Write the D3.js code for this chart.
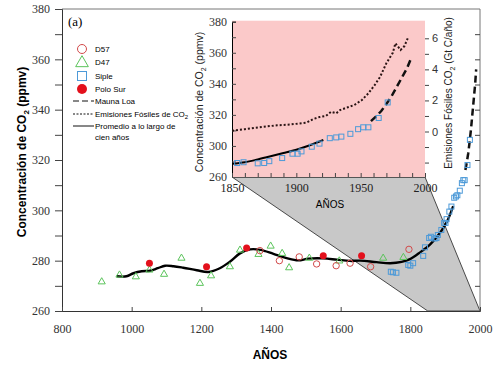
<!DOCTYPE html>
<html>
<head>
<meta charset="utf-8">
<script src="https://cdn.jsdelivr.net/npm/d3@7/dist/d3.min.js"></script>
<style>
body { margin: 0; background: #fff; }
svg { display: block; }
.serif text { font-family: "Liberation Serif", "Times New Roman", serif; }
</style>
</head>
<body>
<div class="content"></div>
<script>
// main chart data (year, ppmv)
var d57 = [[1368,284],[1424,280],[1481,281.5],[1531,278.7],[1587,278],[1627,279],[1686,277.6],[1796,284.5]];
var d47 = [[914,271.6],[965,274.3],[1012,273.6],[1051,276.3],[1093,274.6],[1143,281],[1196,271],[1228,274],
           [1282,277.6],[1311,284.2],[1364,282.5],[1399,285.8],[1432,282.9],[1452,277.2],[1510,281],[1596,279.9],
           [1722,281],[1780,281.3]];
var siple = [[1744,275.6],[1750,275.4],[1760,275.2],[1794,278.3],[1800,278],[1808,279],[1837,281.9],[1842,285.3],
             [1854,289],[1859,289.5],[1870,288.8],[1875,289],[1879,290.2],[1889,292.2],[1897,295],[1901,295],
             [1904,296.5],[1912,299.5],[1918,301.5],[1926,305],[1931,305.5],[1935,306],[1942,307.8],[1948,310.8],
             [1952,312],[1956,312],[1964,318],[1971,328]];
var poloSur = [[1051,279],[1215,277.6],[1330,285],[1550,282],[1660,282]];
var maunaLoa = [[1958,316],[1962,319],[1966,322.5],[1970,327],[1974,332],[1978,338],[1982,344],[1986,350],[1989,356]];
var promedio = [[957,273.8],[985,273.8],[1005,275],[1029,275.8],[1053,276],[1075,277],[1096,278],[1120,277.8],
                [1148,277.2],[1187,276.2],[1220,275.5],[1253,277],[1282,279.6],[1311,282.9],[1340,284.5],[1370,284.3],
                [1407,282.7],[1445,281],[1478,280.1],[1507,280.8],[1550,280.9],[1589,280.4],[1627,279.9],[1656,280],
                [1703,279.4],[1742,279],[1775,279.5],[1799,280.6],[1828,283.3],[1857,286.5],[1885,291],[1905,295.5],
                [1923,301.7]];
// inset data
var promedioInset = [[1850,288.5],[1860,289.5],[1870,291.3],[1880,293.3],[1890,295.4],[1900,297.6],[1910,300.3],[1921,303.8]];
var fosiles = [[1850,0.05],[1860,0.15],[1874,0.3],[1885,0.4],[1895,0.45],[1908,0.57],[1913,0.8],[1918,0.93],
               [1923,1.0],[1927,1.27],[1931,1.17],[1934,1.38],[1940,1.56],[1945,1.7],[1951,2.03],[1956,2.46],
               [1961,3.0],[1965,3.5],[1970,4.4],[1975,5.07],[1977,5.68],[1981,5.25],[1984,5.5],[1987,6.08]];

var mainYTicks = [260,280,300,320,340,360,380];
var mainXTicks = [800,1000,1200,1400,1600,1800,2000];
var insetYTicks = [280,300,320,340,360,380];
var insetYLabels = ["260","300","320","340","360","380"];
var insetETicks = [0,2,4,6];
var insetXTicks = [1850,1900,1950,2000];

var size = {width: 494, height: 366};
var sans = "Liberation Sans, Arial, sans-serif";
var fmt = d3.format('d');

var chart = d3.select('.content')
    .append('svg')
    .attr('width', size.width)
    .attr('height', size.height);

var x = d3.scaleLinear().domain([800, 2000]).range([62, 480]);
var y = d3.scaleLinear().domain([260, 380]).range([311, 9]);

var ix = d3.scaleLinear().domain([1850, 2000]).range([232, 425]);
var iy = d3.scaleLinear().domain([280, 380]).range([177, 21.7]);
var ie = d3.scaleLinear().domain([0, 6]).range([131.5, 38.3]);

// zoom polygon linking inset to main
chart.append('path')
    .attr('d', 'M' + ix(1850) + ',' + iy(280) + 'L' + x(1850) + ',' + y(260) +
               'L' + x(2000) + ',' + y(260) + 'L' + ix(2000) + ',' + iy(280) + 'Z')
    .style('fill', '#c8c8c8')
    .style('stroke', '#222')
    .style('stroke-width', 0.8);

// main frame
chart.append('path')
    .attr('d', 'M62,9H480V311')
    .style('fill', 'none').style('stroke', '#777').style('stroke-width', 1);

var yAxis = chart.append('g')
    .attr('class', 'serif')
    .attr('transform', 'translate(62,0)')
    .call(d3.axisLeft(y).tickValues(d3.range(260, 381, 10)).tickSize(7)
          .tickFormat(function(d) { return mainYTicks.indexOf(d) >= 0 ? fmt(d) : ''; }));
yAxis.attr('font-size', 12);
yAxis.selectAll('text').attr('x', -12).attr('fill', '#333');

var yAxisR = chart.append('g')
    .attr('transform', 'translate(480,0)')
    .call(d3.axisRight(y).tickValues(d3.range(270, 380, 10)).tickSize(-5).tickFormat(''));
yAxisR.select('.domain').remove();

var xAxis = chart.append('g')
    .attr('class', 'serif')
    .attr('transform', 'translate(0,311)')
    .call(d3.axisBottom(x).tickValues(mainXTicks).tickSize(-4).tickPadding(13).tickFormat(fmt));
xAxis.attr('font-size', 12);
xAxis.selectAll('text').attr('fill', '#333');

chart.selectAll('.domain').style('stroke', '#333');
chart.selectAll('.tick line').style('stroke', '#444');

chart.append('text')
    .attr('transform', 'translate(26,152) rotate(-90)')
    .attr('text-anchor', 'middle')
    .attr('font-family', sans).attr('font-weight', 'bold').attr('font-size', 12)
    .html('Concentración de CO<tspan font-size="8" dy="3">2</tspan><tspan dy="-3"> (ppmv)</tspan>');

chart.append('text')
    .attr('x', 270).attr('y', 359)
    .attr('text-anchor', 'middle')
    .attr('font-family', sans).attr('font-weight', 'bold').attr('font-size', 12)
    .text('AÑOS');

chart.append('g').attr('class', 'serif').append('text')
    .attr('x', 68).attr('y', 26)
    .attr('font-size', 13)
    .text('(a)');

// main data
var line = d3.line().x(function(d) { return x(d[0]); }).y(function(d) { return y(d[1]); });

chart.append('path').datum(maunaLoa).attr('d', line)
    .style('fill', 'none').style('stroke', '#111').style('stroke-width', 2.5).style('stroke-dasharray', '7,4');

chart.append('path').datum(promedio).attr('d', line.curve(d3.curveCatmullRom))
    .style('fill', 'none').style('stroke', '#000').style('stroke-width', 2.4);
line.curve(d3.curveLinear);

var tri = d3.symbol().type(d3.symbolTriangle).size(22);
chart.selectAll('.d47').data(d47).enter().append('path')
    .attr('transform', function(d) { return 'translate(' + x(d[0]) + ',' + y(d[1]) + ')'; })
    .attr('d', tri)
    .style('fill', 'none').style('stroke', '#5cc45c').style('stroke-width', 1);

chart.selectAll('.siple').data(siple).enter().append('rect')
    .attr('x', function(d) { return x(d[0]) - 2.5; })
    .attr('y', function(d) { return y(d[1]) - 2.5; })
    .attr('width', 5).attr('height', 5)
    .style('fill', 'none').style('stroke', '#4d9ad8').style('stroke-width', 1);

chart.selectAll('.d57').data(d57).enter().append('circle')
    .attr('cx', function(d) { return x(d[0]); })
    .attr('cy', function(d) { return y(d[1]); })
    .attr('r', 3.2)
    .style('fill', 'none').style('stroke', '#d24a4a').style('stroke-width', 1);

chart.selectAll('.polo').data(poloSur).enter().append('circle')
    .attr('cx', function(d) { return x(d[0]); })
    .attr('cy', function(d) { return y(d[1]); })
    .attr('r', 3.5)
    .style('fill', '#e3101c');

// legend
var lg = chart.append('g').attr('font-family', sans).attr('font-size', 8);
lg.append('circle').attr('cx', 82).attr('cy', 49).attr('r', 4.5)
    .style('fill', 'none').style('stroke', '#d24a4a');
lg.append('path').attr('transform', 'translate(82,63)').attr('d', d3.symbol().type(d3.symbolTriangle).size(70))
    .style('fill', 'none').style('stroke', '#5cc45c');
lg.append('rect').attr('x', 77.5).attr('y', 71.5).attr('width', 9).attr('height', 9)
    .style('fill', 'none').style('stroke', '#4d9ad8');
lg.append('circle').attr('cx', 82).attr('cy', 89).attr('r', 5).style('fill', '#e3101c');
lg.append('line').attr('x1', 73).attr('x2', 94).attr('y1', 101).attr('y2', 101)
    .style('stroke', '#111').style('stroke-dasharray', '6,3');
lg.append('line').attr('x1', 73).attr('x2', 94).attr('y1', 114).attr('y2', 114)
    .style('stroke', '#111').style('stroke-dasharray', '2,1.5');
lg.append('line').attr('x1', 73).attr('x2', 94).attr('y1', 126).attr('y2', 126)
    .style('stroke', '#111');
var legendText = [['D57', 52], ['D47', 65], ['Siple', 79], ['Polo Sur', 92], ['Mauna Loa', 104],
                  ['Promedio a lo largo de', 129], ['cien años', 140]];
lg.selectAll('.lt').data(legendText).enter().append('text')
    .attr('x', 95).attr('y', function(d) { return d[1]; })
    .text(function(d) { return d[0]; });
lg.append('text').attr('x', 95).attr('y', 117)
    .html('Emisiones Fósiles de CO<tspan font-size="6" dy="2">2</tspan>');

// inset
var inset = chart.append('g');
inset.append('rect')
    .attr('x', ix(1850)).attr('y', iy(380) - 1)
    .attr('width', ix(2000) - ix(1850)).attr('height', iy(280) - iy(380) + 1)
    .style('fill', '#fbc9c9');

var iyAxis = inset.append('g')
    .attr('class', 'serif')
    .attr('transform', 'translate(' + ix(1850) + ',0)')
    .call(d3.axisLeft(iy).tickValues(d3.range(280, 381, 10)).tickSize(-4).tickPadding(5)
          .tickFormat(function(d) { var k = insetYTicks.indexOf(d); return k >= 0 ? insetYLabels[k] : ''; }));
iyAxis.attr('font-size', 12);
iyAxis.selectAll('text').attr('fill', '#333');

var ieAxis = inset.append('g')
    .attr('transform', 'translate(' + ix(2000) + ',0)')
    .call(d3.axisRight(ie).tickValues(d3.range(-2, 7, 1)).tickSize(4).tickPadding(3)
          .tickFormat(function(d) { return insetETicks.indexOf(d) >= 0 ? fmt(d) : ''; }));
ieAxis.attr('font-family', sans).attr('font-size', 11);
ieAxis.selectAll('text').attr('fill', '#333');
ieAxis.select('.domain').remove();

var ixAxis = inset.append('g')
    .attr('class', 'serif')
    .attr('transform', 'translate(0,' + iy(280) + ')')
    .call(d3.axisBottom(ix).tickValues(d3.range(1850, 2001, 10)).tickSize(-4).tickPadding(6)
          .tickFormat(function(d) { return insetXTicks.indexOf(d) >= 0 ? fmt(d) : ''; }));
ixAxis.attr('font-size', 12);
ixAxis.selectAll('text').attr('fill', '#222');
ixAxis.select('.domain').style('stroke', '#555');
inset.selectAll('.tick line').style('stroke', '#444');

inset.append('text')
    .attr('transform', 'translate(203,102) rotate(-90)')
    .attr('text-anchor', 'middle')
    .attr('font-family', sans).attr('font-size', 10.5).attr('fill', '#222')
    .html('Concentración de CO<tspan font-size="7" dy="3">2</tspan><tspan dy="-3"> (ppmv)</tspan>');

inset.append('text')
    .attr('transform', 'translate(452,93) rotate(-90)')
    .attr('text-anchor', 'middle')
    .attr('font-family', sans).attr('font-size', 10).attr('fill', '#222')
    .html('Emisiones Fósiles CO<tspan font-size="7" dy="3">2</tspan><tspan dy="-3"> (Gt C/año)</tspan>');

inset.append('text')
    .attr('x', 330).attr('y', 208)
    .attr('text-anchor', 'middle')
    .attr('font-family', sans).attr('font-size', 10)
    .text('AÑOS');

var iline = d3.line().x(function(d) { return ix(d[0]); }).y(function(d) { return iy(d[1]); });
var eline = d3.line().x(function(d) { return ix(d[0]); }).y(function(d) { return ie(d[1]); });

inset.append('path').datum(fosiles).attr('d', eline)
    .style('fill', 'none').style('stroke', '#2a1414').style('stroke-width', 2).style('stroke-dasharray', '2,2');

inset.append('path').datum(maunaLoa).attr('d', iline)
    .style('fill', 'none').style('stroke', '#111').style('stroke-width', 2.5).style('stroke-dasharray', '7,4');

inset.append('path').datum(promedioInset).attr('d', iline.curve(d3.curveCatmullRom))
    .style('fill', 'none').style('stroke', '#000').style('stroke-width', 2);

inset.selectAll('.isiple').data(siple.filter(function(d) { return d[0] >= 1850; })).enter().append('rect')
    .attr('x', function(d) { return ix(d[0]) - 2.5; })
    .attr('y', function(d) { return iy(d[1]) - 2.5; })
    .attr('width', 5).attr('height', 5)
    .style('fill', 'none').style('stroke', '#4d9ad8').style('stroke-width', 1);
</script>
</body>
</html>
